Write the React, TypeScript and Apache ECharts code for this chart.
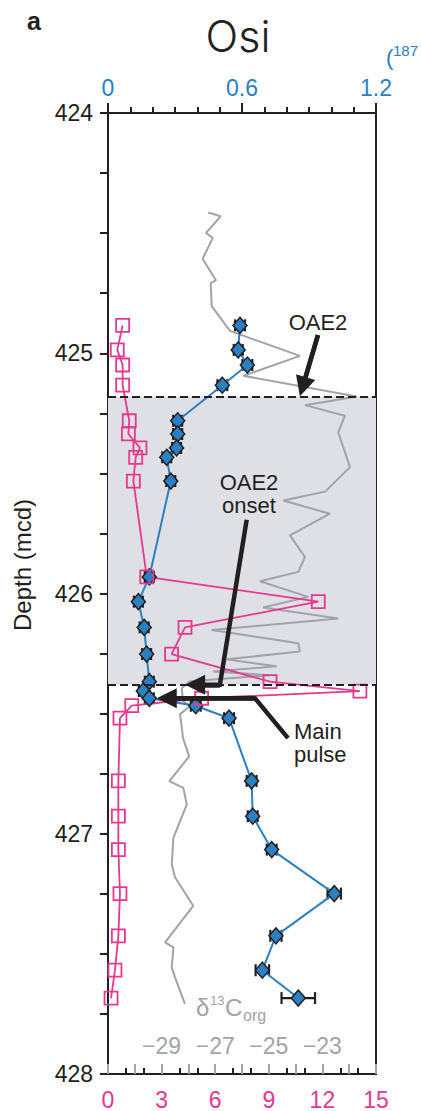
import React, { useEffect, useRef } from "react";
import * as echarts from "echarts";

// Sample depths (mcd), shared by the Os_i and Os concentration records
const DEPTH = [
  424.884, 424.986, 425.049, 425.133, 425.281, 425.336, 425.394, 425.433, 425.532,
  425.931, 426.034, 426.141, 426.252, 426.367, 426.406, 426.436, 426.467, 426.519,
  426.78, 426.927, 427.066, 427.249, 427.425, 427.568, 427.684,
];
// Initial 187Os/188Os (top axis)
const OSI = [
  0.591, 0.583, 0.624, 0.512, 0.312, 0.312, 0.307, 0.263, 0.281, 0.185, 0.136, 0.162,
  0.173, 0.185, 0.158, 0.185, 0.393, 0.542, 0.643, 0.648, 0.733, 1.013, 0.752, 0.691,
  0.852,
];
// 2-sigma uncertainty of Os_i
const OSI_ERR = [
  0.022, 0.02, 0.022, 0.022, 0.02, 0.02, 0.02, 0.02, 0.02, 0.02, 0.02, 0.02, 0.02, 0.02,
  0.02, 0.02, 0.022, 0.022, 0.022, 0.022, 0.022, 0.03, 0.025, 0.03, 0.075,
];
// Os concentration (bottom axis, 0-15)
const OS_CONC = [
  0.82, 0.52, 0.82, 0.82, 1.19, 1.14, 1.79, 1.55, 1.42, 2.17, 11.77, 4.31, 3.56, 9.07,
  14.1, 5.24, 1.33, 0.67, 0.58, 0.58, 0.58, 0.67, 0.58, 0.39, 0.17,
];

// Organic carbon isotope record
const D13C_DEPTH = [
  424.414, 424.43, 424.499, 424.52, 424.607, 424.697, 424.707, 424.804, 424.907, 425.011,
  425.094, 425.18, 425.216, 425.26, 425.329, 425.474, 425.576, 425.613, 425.668, 425.758,
  425.848, 425.91, 425.949, 426.014, 426.058, 426.104, 426.152, 426.207, 426.241, 426.274,
  426.303, 426.325, 426.34, 426.365, 426.394, 426.448, 426.469, 426.502, 426.602, 426.678,
  426.781, 426.809, 426.878, 427.017, 427.127, 427.181, 427.3, 427.452, 427.473, 427.556,
  427.598, 427.708,
];
const D13C = [
  -27.26, -26.8, -27.34, -27.09, -27.47, -26.97, -27.17, -27.13, -26.45, -23.84, -25.95,
  -21.72, -23.65, -22.16, -22.41, -21.97, -22.9, -24.46, -22.72, -24.21, -23.65, -23.9,
  -25.33, -23.53, -25.21, -22.41, -27.13, -23.9, -23.84, -26.57, -24.71, -27.07, -24.96,
  -27.94, -28.25, -28.2, -27.94, -28.31, -28.2, -27.97, -28.71, -28.19, -28.06, -28.56,
  -28.62, -28.5, -27.82, -28.87, -28.56, -28.62, -28.5, -28.13,
];
const D13C_TICK_LABELS = [-29, -27, -25, -23];

// OAE2 interval (base / top of shaded band)
const OAE2_TOP = 425.18;
const OAE2_ONSET = 426.38;

// Annotation arrows in (Os_i, depth); the last point is the arrowhead centre
const ARROW_OAE2 = [[0.94, 424.925], [0.872, 425.139]];
const ARROW_ONSET = [[0.621, 425.693], [0.501, 426.38], [0.39, 426.38]];
const ARROW_PULSE = [[0.806, 426.602], [0.658, 426.436], [0.263, 426.436]];

const FONT = '"Liberation Sans", Arial, Helvetica, sans-serif';
const BLUE = "#2b80c3";
const MAGENTA = "#e5388e";
const GREY = "#a0a3a8";
const SHADE = "#dfe0e5";
const INK = "#231f20";

export default function App() {
  const ref = useRef<HTMLDivElement>(null);

  useEffect(() => {
    const chart = echarts.init(ref.current!, undefined, { renderer: "svg" });

    const osiPoints = DEPTH.map((d, i) => [OSI[i], d]);
    const concPoints = DEPTH.map((d, i) => [OS_CONC[i], d]);
    const errBars = DEPTH.map((d, i) => [OSI[i] - OSI_ERR[i], OSI[i] + OSI_ERR[i], d]);
    const d13cPoints = D13C_DEPTH.map((d, i) => [D13C[i], d]);
    const arrows = [ARROW_OAE2, ARROW_ONSET, ARROW_PULSE];
    const heads = arrows.map((a) => ({ coords: a.slice(a.length - 2) }));

    const inkLine = { color: INK, width: 2 };

    const label = (x: number, y: number, style: any, extra: any = {}) => ({
      type: "text",
      x,
      y,
      z: 20,
      silent: true,
      ...extra,
      style: { fontFamily: FONT, fill: INK, align: "left", verticalAlign: "middle", ...style },
    });

    const option: any = {
      animation: false,
      textStyle: { fontFamily: FONT },
      grid: {
        left: 108,
        right: 45,
        top: 113,
        bottom: 34,
        show: true,
        borderColor: INK,
        borderWidth: 2,
        backgroundColor: "transparent",
      },
      xAxis: [
        {
          type: "value",
          position: "top",
          min: 0,
          max: 1.2,
          interval: 0.6,
          axisLine: { show: true, lineStyle: inkLine },
          axisTick: { show: true, length: 10, lineStyle: inkLine },
          minorTick: { show: true, splitNumber: 6, length: 6, lineStyle: inkLine },
          splitLine: { show: false },
          axisLabel: { color: BLUE, fontSize: 23, margin: 14, fontFamily: FONT },
        },
        {
          type: "value",
          position: "bottom",
          min: 0,
          max: 15,
          interval: 3,
          axisLine: { show: true, lineStyle: inkLine },
          axisTick: { show: true, inside: true, length: 7, lineStyle: inkLine },
          minorTick: { show: true, splitNumber: 3, length: 6, lineStyle: inkLine },
          splitLine: { show: false },
          axisLabel: { color: MAGENTA, fontSize: 23, margin: 14, fontFamily: FONT },
        },
        {
          type: "value",
          position: "bottom",
          min: -31,
          max: -21,
          interval: 1,
          axisLine: { show: false },
          axisTick: { show: true, inside: true, length: 10, lineStyle: { color: GREY, width: 2 } },
          splitLine: { show: false },
          axisLabel: {
            inside: true,
            color: GREY,
            fontSize: 23,
            margin: 17,
            fontFamily: FONT,
            formatter: (v: number) =>
              D13C_TICK_LABELS.includes(Math.round(v)) ? "\u2212" + Math.abs(Math.round(v)) : "",
          },
        },
      ],
      yAxis: [
        {
          type: "value",
          inverse: true,
          min: 424,
          max: 428,
          interval: 1,
          axisLine: { show: true, lineStyle: inkLine },
          axisTick: { show: true, length: 8, lineStyle: inkLine },
          minorTick: { show: true, splitNumber: 4, length: 8, lineStyle: inkLine },
          splitLine: { show: false },
          axisLabel: { color: INK, fontSize: 23, margin: 15, fontFamily: FONT },
        },
      ],
      series: [
        {
          name: "d13Corg",
          type: "line",
          xAxisIndex: 2,
          yAxisIndex: 0,
          data: d13cPoints,
          symbol: "none",
          lineStyle: { color: GREY, width: 2 },
          z: 2,
          markArea: {
            silent: true,
            itemStyle: { color: SHADE },
            data: [[{ yAxis: OAE2_TOP }, { yAxis: OAE2_ONSET }]],
          },
          markLine: {
            silent: true,
            symbol: ["none", "none"],
            label: { show: false },
            lineStyle: { color: INK, width: 2, type: [8, 4] },
            data: [{ yAxis: OAE2_TOP }, { yAxis: OAE2_ONSET }],
          },
        },
        {
          name: "Osi error",
          type: "custom",
          xAxisIndex: 0,
          yAxisIndex: 0,
          data: errBars,
          encode: { x: [0, 1], y: 2 },
          z: 3,
          renderItem: (params: any, api: any) => {
            const lo = api.coord([api.value(0), api.value(2)]);
            const hi = api.coord([api.value(1), api.value(2)]);
            const h = 6;
            const style = { stroke: INK, lineWidth: 2.2 };
            return {
              type: "group",
              children: [
                { type: "line", shape: { x1: lo[0], y1: lo[1], x2: hi[0], y2: hi[1] }, style },
                { type: "line", shape: { x1: lo[0], y1: lo[1] - h, x2: lo[0], y2: lo[1] + h }, style },
                { type: "line", shape: { x1: hi[0], y1: hi[1] - h, x2: hi[0], y2: hi[1] + h }, style },
              ],
            };
          },
        },
        {
          name: "Osi",
          type: "line",
          xAxisIndex: 0,
          yAxisIndex: 0,
          data: osiPoints,
          symbol: "diamond",
          symbolSize: [14, 16],
          showSymbol: true,
          itemStyle: { color: BLUE, borderColor: INK, borderWidth: 1.5 },
          lineStyle: { color: BLUE, width: 2 },
          z: 4,
        },
        {
          name: "Os",
          type: "line",
          xAxisIndex: 1,
          yAxisIndex: 0,
          data: concPoints,
          symbol: "rect",
          symbolSize: 13,
          showSymbol: true,
          itemStyle: { color: "rgba(0,0,0,0)", borderColor: MAGENTA, borderWidth: 1.8 },
          lineStyle: { color: MAGENTA, width: 1.8 },
          z: 4,
        },
        {
          name: "arrow shafts",
          type: "lines",
          coordinateSystem: "cartesian2d",
          xAxisIndex: 0,
          yAxisIndex: 0,
          polyline: true,
          silent: true,
          lineStyle: { color: INK, width: 4.5, opacity: 1 },
          data: arrows.map((a) => ({ coords: a })),
          z: 6,
        },
        {
          name: "arrow heads",
          type: "lines",
          coordinateSystem: "cartesian2d",
          xAxisIndex: 0,
          yAxisIndex: 0,
          silent: true,
          symbol: ["none", "triangle"],
          symbolSize: [17, 20],
          lineStyle: { color: INK, width: 4.5, opacity: 1 },
          itemStyle: { color: INK },
          data: heads,
          z: 6,
        },
      ],
      graphic: [
        label(27, 21, { text: "a", fontSize: 25, fontWeight: "bold" }),
        label(238, 36, {
          text: "Osi",
          fontSize: 43,
          fontWeight: 300,
          fontFamily: "Inter, " + FONT,
          align: "center",
        }),
        label(386, 57, { text: "(", fontSize: 22, fill: BLUE }),
        label(393, 50, { text: "187", fontSize: 15, fill: BLUE }),
        label(22, 565, { text: "Depth (mcd)", fontSize: 24, align: "center" }, { rotation: Math.PI / 2 }),
        label(318, 322, { text: "OAE2", fontSize: 22, align: "center" }),
        label(249, 482, { text: "OAE2", fontSize: 22, align: "center" }),
        label(249, 505, { text: "onset", fontSize: 22, align: "center" }),
        label(294, 731, { text: "Main", fontSize: 22 }),
        label(294, 754, { text: "pulse", fontSize: 22 }),
        label(196, 1007, { text: "\u03b4", fontSize: 24, fill: GREY }),
        label(210, 1000, { text: "13", fontSize: 13, fill: GREY }),
        label(225, 1007, { text: "C", fontSize: 24, fill: GREY }),
        label(243, 1015, { text: "org", fontSize: 16, fill: GREY }),
      ],
    };

    chart.setOption(option);
    return () => chart.dispose();
  }, []);

  return (
    <div
      ref={ref}
      style={{ position: "absolute", left: 0, top: 0, width: 421, height: 1111, background: "#fff" }}
    />
  );
}
